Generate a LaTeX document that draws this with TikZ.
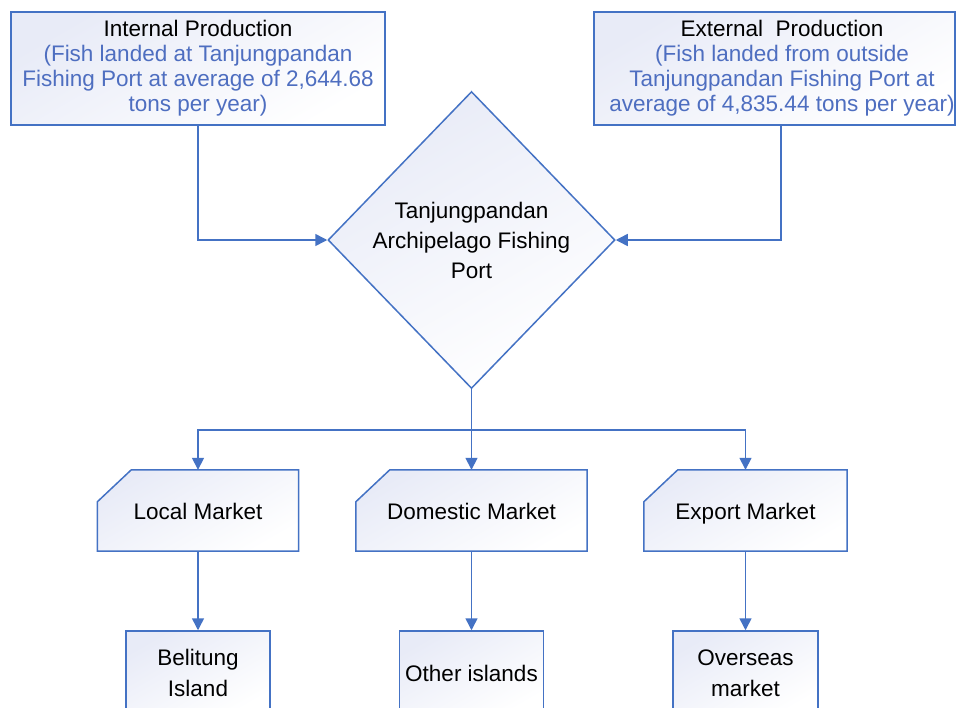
\documentclass[tikz,border=0pt]{standalone}
\usepackage{fontspec}
\setmainfont{Liberation Sans}
\usetikzlibrary{shapes.geometric,arrows.meta,backgrounds}
\definecolor{lineblue}{RGB}{68,114,196}
\definecolor{textblue}{RGB}{78,110,192}
\definecolor{shadetop}{RGB}{232,235,247}
\tikzset{
  shd/.style={draw=lineblue, line width=1.5pt, top color=shadetop, bottom color=white, shading angle=30},
  bx/.style={shd, align=center, inner sep=0pt, font=\fontsize{22.5}{25}\selectfont, text=black},
  txt/.style={align=center, inner sep=0pt, font=\fontsize{22.5}{25}\selectfont, text=black},
  mk/.style={txt, text height=17pt, text depth=0pt, minimum height=81pt},
  arr/.style={draw=lineblue, line width=1.5pt, -{Triangle[width=12pt,length=12pt]}},
  ln/.style={draw=lineblue, line width=1.5pt}
}
\newcommand{\chambox}[1]{%
  \path[shd] ([yshift=-32pt]#1.north west) -- ([xshift=34pt]#1.north west) -- (#1.north east) -- (#1.south east) -- (#1.south west) -- cycle;}
\begin{document}
\begin{tikzpicture}[x=1pt,y=-1pt]
\useasboundingbox (0,0) rectangle (958,707);
\begin{scope}
\clip (0,0) rectangle (958,707);
% top boxes
\node[bx, minimum width=374pt, minimum height=113pt] (int) at (198,68.5)
  {Internal Production\\\textcolor{textblue}{(Fish landed at Tanjungpandan}\\\textcolor{textblue}{Fishing Port at average of 2,644.68}\\\textcolor{textblue}{tons per year)}};
\node[bx, minimum width=361pt, minimum height=113pt] (ext) at (774.5,68.5) {};
\node[txt] (extt) at (782,68.5)
  {External\ \ Production\\\textcolor{textblue}{(Fish landed from outside}\\\textcolor{textblue}{Tanjungpandan Fishing Port at}\\\textcolor{textblue}{average of 4,835.44 tons per year)}};
% diamond
\node[bx, diamond, minimum width=287pt, minimum height=297pt, font=\fontsize{22.5}{30}\selectfont] (port) at (471.5,240)
  {Tanjungpandan\\Archipelago Fishing\\Port};
% markets
\node[mk, minimum width=201pt] (local) at (198,510.5) {Local Market};
\node[mk, minimum width=231pt] (dom) at (471.5,510.5) {Domestic Market};
\node[mk, minimum width=203pt] (exp) at (745.5,510.5) {Export Market};
\begin{pgfonlayer}{background}
\fill[white] (0,0) rectangle (958,707);
\chambox{local}
\chambox{dom}
\chambox{exp}
\end{pgfonlayer}
% destinations
\node[bx, minimum width=144pt, minimum height=84pt, font=\fontsize{22.5}{31}\selectfont] (bel) at (198,673) {Belitung\\Island};
\node[bx, minimum width=144pt, minimum height=84pt] (oth) at (471.5,673) {Other islands};
\node[bx, minimum width=145pt, minimum height=84pt, font=\fontsize{22.5}{31}\selectfont] (ovs) at (745.5,673) {Overseas\\market};
% connectors
\coordinate (split) at (471.5,430);
\draw[arr] (int.south) |- (port.west);
\draw[arr] ([xshift=6.5pt]ext.south) |- (port.east);
\draw[ln] (port.south) -- (split);
\draw[arr] (split) -| (local.north);
\draw[arr] (split) -- (dom.north);
\draw[arr] (split) -| (exp.north);
\draw[arr] (local.south) -- (bel.north);
\draw[arr] (dom.south) -- (oth.north);
\draw[arr] (exp.south) -- (ovs.north);
\end{scope}
\end{tikzpicture}
\end{document}
